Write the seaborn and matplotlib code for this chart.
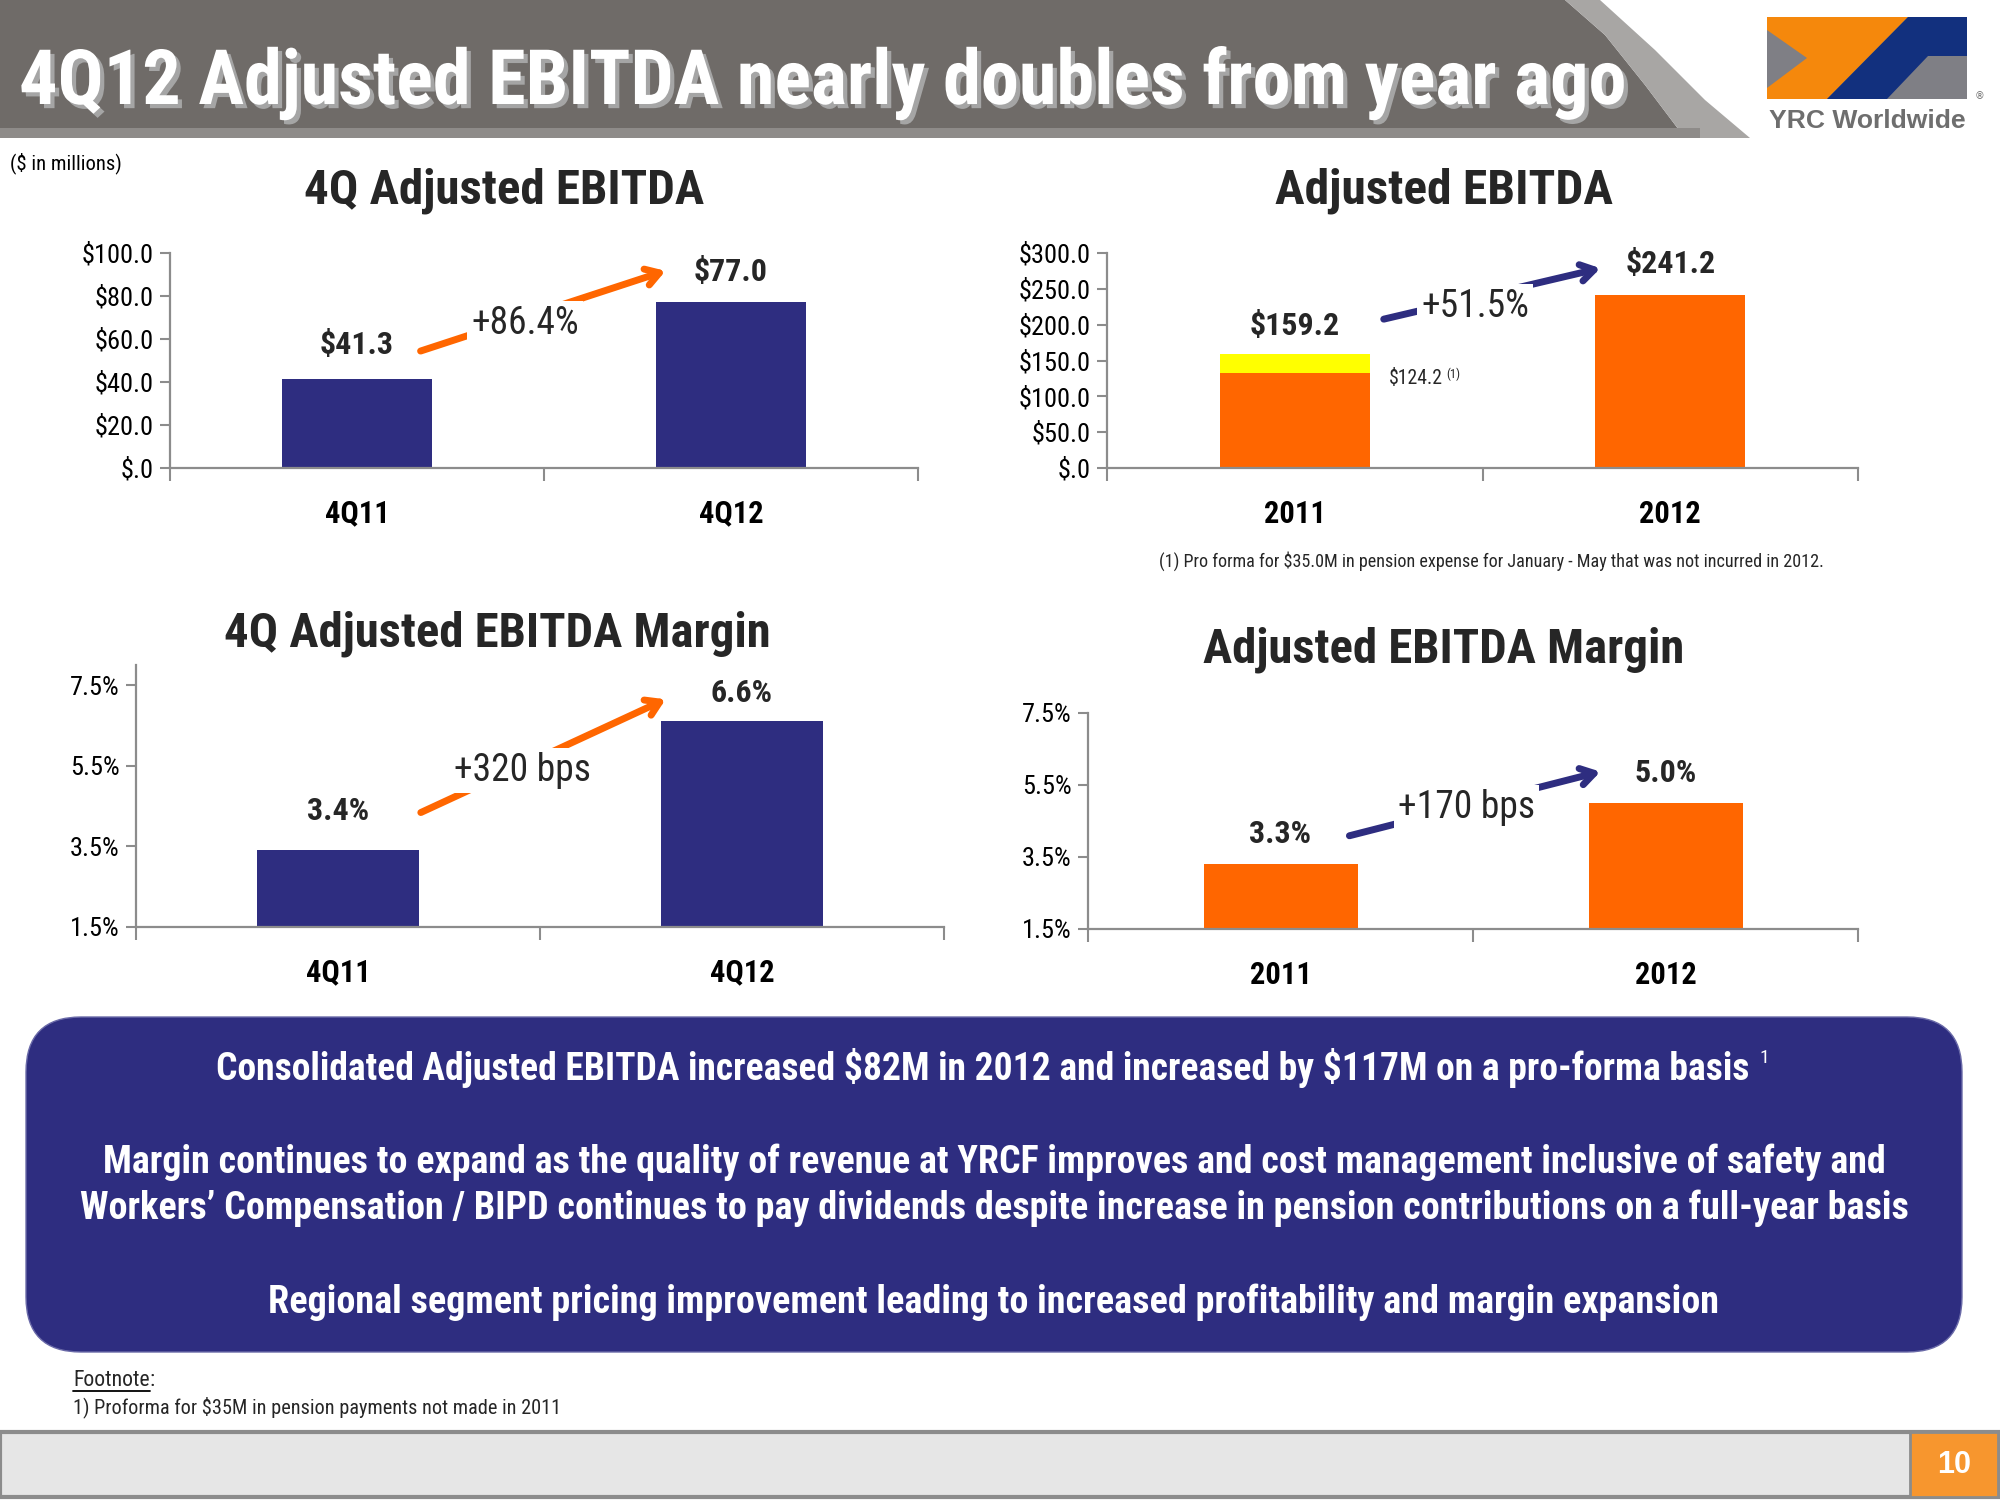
import matplotlib
matplotlib.use("Agg")
import matplotlib.pyplot as plt
import matplotlib.patheffects as pe
from matplotlib import font_manager as fm
from matplotlib.patches import Polygon, FancyBboxPatch, Rectangle
import seaborn as sns

sns.set_theme(style="white")

# pick a narrow font if one is installed (slide uses Arial Narrow)
fonts = fm.fontManager.ttflist
names = {f.name for f in fonts}
NARROW, STRETCH = "Liberation Sans", "normal"
for cand in ["Liberation Sans Narrow", "Roboto Condensed", "Open Sans Condensed",
             "Noto Sans Condensed", "DejaVu Sans Condensed"]:
    if cand in names:
        NARROW = cand
        break
else:
    for fam in ["Noto Sans", "Open Sans", "Roboto", "DejaVu Sans"]:
        if any(f.name == fam and str(f.stretch) == "condensed" for f in fonts):
            NARROW, STRETCH = fam, "condensed"
            break
plt.rcParams["font.family"] = [NARROW, "DejaVu Sans"]
plt.rcParams["font.stretch"] = STRETCH
plt.rcParams["text.parse_math"] = False

NAVY = "#2E2D80"
ORANGE = "#FF6600"
YELLOW = "#FFFF00"
GREY = "#8C8C8C"

# data
q_cats = ["4Q11", "4Q12"]
q_ebitda = [41.3, 77.0]
q_ebitda_labels = ["$41.3", "$77.0"]

y_cats = ["2011", "2012"]
y_ebitda = [159.2, 241.2]
y_ebitda_base = [133.0, 241.2]      # orange part as drawn on the slide
y_ebitda_labels = ["$159.2", "$241.2"]
proforma_label = "$124.2"

q_margin = [3.4, 6.6]
q_margin_labels = ["3.4%", "6.6%"]

y_margin = [3.3, 5.0]
y_margin_labels = ["3.3%", "5.0%"]

ebitda_ticks_q = [0, 20, 40, 60, 80, 100]
ebitda_ticks_y = [0, 50, 100, 150, 200, 250, 300]
margin_ticks = [1.5, 3.5, 5.5, 7.5]

title = "4Q12 Adjusted EBITDA nearly doubles from year ago"
box_lines = [
    "Consolidated Adjusted EBITDA increased $82M in 2012 and increased by $117M on a pro-forma basis",
    "Margin continues to expand as the quality of revenue at YRCF improves and cost management inclusive of safety and",
    "Workers\u2019 Compensation / BIPD continues to pay dividends despite increase in pension contributions on a full-year basis",
    "Regional segment pricing improvement leading to increased profitability and margin expansion",
]

fig = plt.figure(figsize=(20, 15), dpi=100)
fig.patch.set_facecolor("white")
renderer = fig.canvas.get_renderer()


def fit(t, width_px):
    # scale font so the text spans the width seen on the slide
    w = t.get_window_extent(renderer).width
    t.set_fontsize(t.get_fontsize() * width_px / w)
    return t


bg = fig.add_axes([0, 0, 1, 1])
bg.set_xlim(0, 2000)
bg.set_ylim(1500, 0)
bg.axis("off")

# header bar
bg.add_patch(Polygon([(0, 0), (1565, 0), (1605, 35), (1645, 85), (1685, 138), (0, 138)],
                     closed=True, fc="#6F6B68", ec="none"))
bg.add_patch(Polygon([(1565, 0), (1600, 0), (1655, 50), (1705, 100), (1750, 138), (1685, 138),
                      (1645, 85), (1605, 35)], closed=True, fc="#A8A6A4", ec="none"))
bg.add_patch(Rectangle((0, 128), 1700, 10, fc="#8E8B89", ec="none"))
t = bg.text(19, 104, title, color="white", fontsize=54, fontweight="bold", ha="left", va="baseline",
            path_effects=[pe.SimplePatchShadow(offset=(3, -3), shadow_rgbFace="#A5A5A5", alpha=1.0),
                          pe.Normal()])
fit(t, 1607)

# logo
bg.add_patch(Rectangle((1767, 17), 200, 82, fc="#7F7F85", ec="none"))
bg.add_patch(Polygon([(1767, 17), (1908, 17), (1827, 99), (1767, 99), (1767, 88), (1807, 58), (1767, 30)],
                     fc="#F5880C", ec="none"))
bg.add_patch(Polygon([(1908, 17), (1967, 17), (1967, 56), (1928, 56), (1887, 99), (1827, 99)],
                     fc="#12307E", ec="none"))
t = bg.text(1867, 121, "YRC Worldwide", family="Liberation Sans", fontweight="bold", fontsize=18,
            color="#6E6E6E", ha="center", va="center")
fit(t, 197)
bg.text(1980, 96, "\u00ae", family="DejaVu Sans", fontsize=7, color="#6E6E6E", ha="center", va="center")

t = bg.text(10, 163, "($ in millions)", fontsize=13, ha="left", va="center", color="black")
fit(t, 111)


def px_axes(l, tp, r, b):
    return fig.add_axes([l / 2000, 1 - b / 1500, (r - l) / 2000, (b - tp) / 1500])


def style_axes(ax, ylim, ticks, labels):
    ax.set_xlim(-0.5, 1.5)
    ax.set_ylim(*ylim)
    ax.set_yticks(ticks)
    ax.set_yticklabels(labels)
    ax.set_xlabel("")
    ax.set_ylabel("")
    for s in ["top", "right"]:
        ax.spines[s].set_visible(False)
    for s in ["left", "bottom"]:
        ax.spines[s].set_color(GREY)
        ax.spines[s].set_linewidth(1.6)
    ax.tick_params(axis="y", which="major", left=True, length=7, width=1.5, color=GREY,
                   labelsize=19, labelcolor="black", pad=5, direction="out")
    ax.tick_params(axis="x", which="major", bottom=True, length=0, labelsize=22, pad=22,
                   labelcolor="black")
    for lab in ax.get_xticklabels():
        lab.set_fontweight("bold")
    ax.set_xticks([-0.5, 0.5, 1.5], minor=True)
    ax.tick_params(axis="x", which="minor", bottom=True, length=9, width=1.5, color=GREY,
                   direction="out")
    ax.patch.set_alpha(0)


def trend(ax, start, end, color, label, label_xy):
    ax.annotate("", xy=end, xytext=start,
                arrowprops=dict(arrowstyle="->,head_length=0.8,head_width=0.5", color=color,
                                lw=5, shrinkA=0, shrinkB=0), zorder=4, annotation_clip=False)
    ax.text(label_xy[0], label_xy[1], label, fontsize=27, ha="center", va="center", zorder=5,
            bbox=dict(fc="white", ec="none", pad=3), clip_on=False)


def value_labels(ax, xs, ys, labels):
    for x, y, s in zip(xs, ys, labels):
        ax.text(x, y, s, fontsize=23, fontweight="bold", ha="center", va="center", clip_on=False)


def chart_title(x, y, s, width_px):
    fit(bg.text(x, y, s, fontsize=36, fontweight="bold", ha="center", va="center"), width_px)


# chart 1: 4Q Adjusted EBITDA
ax1 = px_axes(170, 253, 918, 468)
sns.barplot(x=q_cats, y=q_ebitda, color=NAVY, saturation=1, width=0.4, linewidth=0, ax=ax1)
style_axes(ax1, (0, 100), ebitda_ticks_q, ["$%.1f" % v if v else "$.0" for v in ebitda_ticks_q])
value_labels(ax1, [0, 1], [57.4, 91.1], q_ebitda_labels)
trend(ax1, (0.17, 54.4), (0.825, 91.7), ORANGE, "+86.4%", (0.45, 67))
chart_title(504, 191, "4Q Adjusted EBITDA", 400)

# chart 2: Adjusted EBITDA (stacked pro forma)
ax2 = px_axes(1107, 253, 1858, 468)
sns.barplot(x=y_cats, y=y_ebitda, hue=y_cats, palette=[YELLOW, ORANGE], legend=False,
            saturation=1, width=0.4, linewidth=0, ax=ax2)
sns.barplot(x=y_cats, y=y_ebitda_base, color=ORANGE, saturation=1, width=0.4, linewidth=0, ax=ax2)
style_axes(ax2, (0, 300), ebitda_ticks_y, ["$%.1f" % v if v else "$.0" for v in ebitda_ticks_y])
value_labels(ax2, [0, 1], [198.8, 284], y_ebitda_labels)
trend(ax2, (0.237, 207.7), (0.814, 278.7), NAVY, "+51.5%", (0.481, 225.5))
pf = ax2.text(0.25, 124.3, proforma_label, fontsize=14, ha="left", va="center")
fit(pf, 54)
pf_bb = pf.get_window_extent(renderer)
sup_x = ax2.transData.inverted().transform((pf_bb.x1 + 4, 0))[0]
ax2.text(sup_x, 130.3, "(1)", fontsize=9, ha="left", va="center")
chart_title(1444, 191, "Adjusted EBITDA", 338)
t = bg.text(1491, 561, "(1) Pro forma for $35.0M in pension expense for January - May that was not incurred in 2012.",
            fontsize=12, ha="center", va="center")
fit(t, 666)

# chart 3: 4Q margin
ax3 = px_axes(136, 665, 944, 927)
sns.barplot(x=q_cats, y=q_margin, color=NAVY, saturation=1, width=0.4, linewidth=0, ax=ax3)
style_axes(ax3, (1.5, 8.0), margin_ticks, ["%.1f%%" % v for v in margin_ticks])
value_labels(ax3, [0, 1], [4.37, 7.31], q_margin_labels)
trend(ax3, (0.205, 4.34), (0.811, 7.15), ORANGE, "+320 bps", (0.457, 5.38))
chart_title(497, 634, "4Q Adjusted EBITDA Margin", 546)

# chart 4: full-year margin
ax4 = px_axes(1088, 713, 1858, 929)
sns.barplot(x=y_cats, y=y_margin, color=ORANGE, saturation=1, width=0.4, linewidth=0, ax=ax4)
style_axes(ax4, (1.5, 7.5), margin_ticks, ["%.1f%%" % v for v in margin_ticks])
value_labels(ax4, [0, 1], [4.13, 5.83], y_margin_labels)
trend(ax4, (0.179, 4.09), (0.831, 5.87), NAVY, "+170 bps", (0.483, 4.87))
chart_title(1444, 650, "Adjusted EBITDA Margin", 481)

# summary box
bg.add_patch(FancyBboxPatch((26, 1017), 1936, 335, boxstyle="round,pad=0,rounding_size=55",
                            fc=NAVY, ec="#6A6AA8", lw=1))
box_widths = [1538, 1786, 1830, 1448]
box_texts = []
for y, line, x, w in zip([1068, 1162, 1208, 1302], box_lines, [983, 994, 994, 994], box_widths):
    bt = bg.text(x, y, line, color="white", fontsize=27, fontweight="bold", ha="center", va="center")
    box_texts.append(fit(bt, w))
b1 = box_texts[0].get_window_extent(renderer)
sx = bg.transData.inverted().transform((b1.x1 + 10, 0))[0]
bg.text(sx, 1058, "1", color="white", fontsize=14, ha="left", va="center")

# footnote
fn = bg.text(73, 1380, "Footnote", fontsize=14, ha="left", va="center")
fit(fn, 77)
fl = bg.text(73, 1407, "1) Proforma for $35M in pension payments not made in 2011", fontsize=14,
             ha="left", va="center")
fit(fl, 488)
bb = fn.get_window_extent(renderer).transformed(bg.transData.inverted())
x0, x1 = min(bb.x0, bb.x1), max(bb.x0, bb.x1)
bg.text(x1, 1380, ":", fontsize=fn.get_fontsize(), ha="left", va="center")
bg.plot([x0, x1], [1391, 1391], color="black", lw=1.3)

# bottom bar
bg.add_patch(Rectangle((0, 1432), 2000, 65, fc="#E6E6E6", ec="#8C8C8C", lw=3))
bg.add_patch(Rectangle((1910, 1432), 88, 65, fc="#F7962E", ec="#8C8C8C", lw=2))
bg.text(1954, 1465, "10", family="Liberation Sans", color="white", fontsize=22, fontweight="bold",
        ha="center", va="center")

fig.savefig("out.png", dpi=100, facecolor="white")
